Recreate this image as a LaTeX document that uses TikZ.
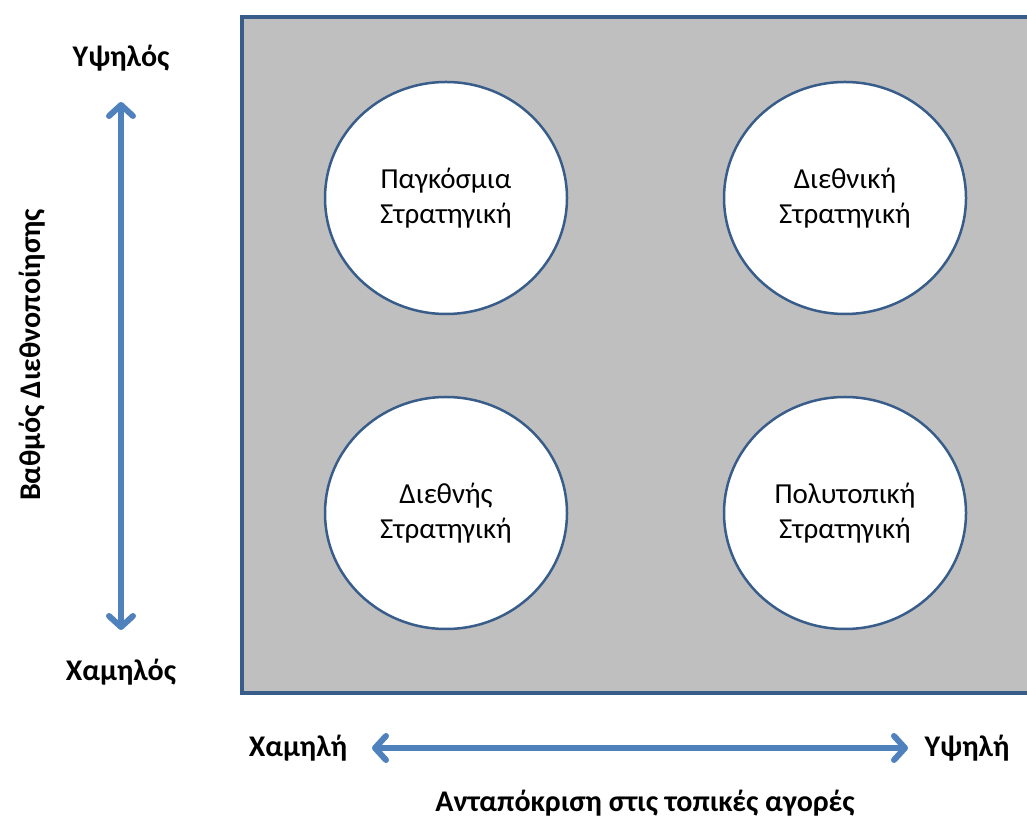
\documentclass[tikz,border=0pt]{standalone}
\usepackage{fontspec}
\setmainfont{Carlito}
\usetikzlibrary{arrows.meta,positioning,shapes.geometric}
\definecolor{frame}{RGB}{56,93,138}
\definecolor{panel}{RGB}{191,191,191}
\definecolor{axis}{RGB}{79,129,189}

\begin{document}
\begin{tikzpicture}[x=1pt,y=1pt]

		\tikzset{line/.style={draw,line width=6pt}}
		\tikzset{arrow/.style={line,axis,{Straight Barb[length=11pt,width=24pt,round]}-{Straight Barb[length=11pt,width=24pt,round]}}}
		\tikzset{strategy/.style={shape=ellipse,draw=frame,fill=white,line width=2.5pt,minimum width=242pt,minimum height=232pt,inner sep=0pt,align=center,font=\fontsize{29}{35}\selectfont}}
		\tikzset{label/.style={font=\fontsize{30}{34}\selectfont\bfseries}}

		\useasboundingbox (0,0) rectangle (1027,819);

		\draw[frame,fill=panel,line width=4pt] (242,126) rectangle (1032,802);

		\node[strategy] (global) at (446,621) {Παγκόσμια\\Στρατηγική};
		\node[strategy] (transnational) at (845,621) {Διεθνική\\Στρατηγική};
		\node[strategy] (international) at (446,306) {Διεθνής\\Στρατηγική};
		\node[strategy] (multidomestic) at (845,306) {Πολυτοπική\\Στρατηγική};

		% vertical axis
		\coordinate (vlow) at (121,189);
		\coordinate (vhigh) at (121,717);
		\node[label] (high) at (121,761) {Υψηλός};
		\node[label] (low) at (121,147) {Χαμηλός};
		\node[label,rotate=90] (degree) at (32,464) {Βαθμός Διεθνοποίησης};

		% horizontal axis
		\coordinate (hlow) at (372,71);
		\coordinate (hhigh) at (908,71);
		\node[label] (left) at (298,71) {Χαμηλή};
		\node[label] (right) at (967,71) {Υψηλή};
		\node[label] (response) at (645,16) {Ανταπόκριση στις τοπικές αγορές};

		\path[arrow] (vlow) to (vhigh);
		\path[arrow] (hlow) to (hhigh);

	\end{tikzpicture}
\end{document}
